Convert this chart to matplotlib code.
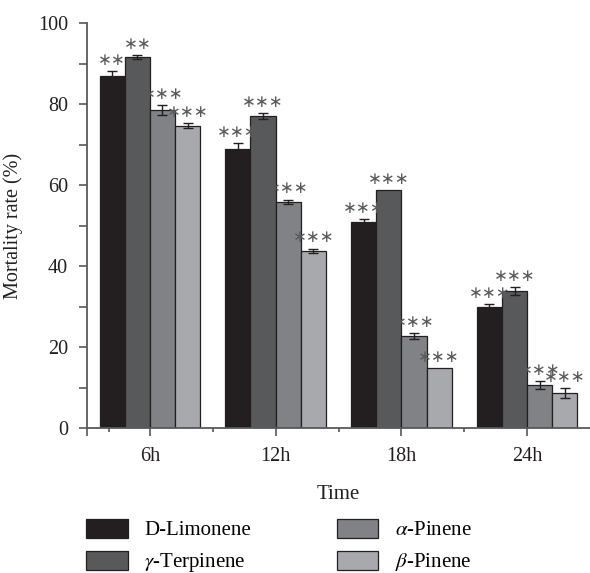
import matplotlib
matplotlib.use("Agg")
import matplotlib.pyplot as plt
import numpy as np

# data
times = ["6h", "12h", "18h", "24h"]
series = ["D-Limonene", r"$\gamma$-Terpinene", r"$\alpha$-Pinene", r"$\beta$-Pinene"]
colors = ["#231f20", "#58595b", "#808285", "#a7a9ac"]

limonene = [86.9, 68.9, 50.9, 30.0]
terpinene = [91.6, 77.0, 58.8, 33.8]
a_pinene = [78.5, 55.8, 22.7, 10.6]
b_pinene = [74.6, 43.8, 14.8, 8.7]

limonene_err = [1.2, 1.4, 0.8, 0.6]
terpinene_err = [0.5, 0.8, 0.0, 0.9]
a_pinene_err = [1.3, 0.6, 0.7, 1.0]
b_pinene_err = [0.6, 0.5, 0.0, 1.2]

limonene_sig = ["**", "***", "***", "***"]
terpinene_sig = ["**", "***", "***", "***"]
a_pinene_sig = ["***", "***", "***", "***"]
b_pinene_sig = ["***", "***", "***", "***"]

values = [limonene, terpinene, a_pinene, b_pinene]
errors = [limonene_err, terpinene_err, a_pinene_err, b_pinene_err]
sigs = [limonene_sig, terpinene_sig, a_pinene_sig, b_pinene_sig]

plt.rcParams["font.family"] = ["Liberation Serif", "DejaVu Serif"]
plt.rcParams["mathtext.fontset"] = "stix"
plt.rcParams["font.size"] = 14.5

AXCOL = "#58595b"

fig = plt.figure(figsize=(5.9, 5.73), dpi=100)
ax = fig.add_axes([87 / 590, 145 / 573, 503 / 590, 405 / 573])

x = np.arange(1, len(times) + 1)
width = 0.2
offsets = [-0.3, -0.1, 0.1, 0.3]

for i in range(len(series)):
    pos = x + offsets[i]
    ax.bar(pos, values[i], width, color=colors[i], edgecolor="#231f20",
           linewidth=0.9, label=series[i], zorder=2)
    err = np.array(errors[i])
    mask = err > 0
    ax.errorbar(pos[mask], np.array(values[i])[mask], yerr=err[mask], fmt="none",
                ecolor="#231f20", elinewidth=1.0, capsize=3.5, capthick=1.0, zorder=3)
    for j in range(len(times)):
        stars = "\u2217" * len(sigs[i][j])
        ax.annotate(stars, (pos[j], values[i][j] + errors[i][j]),
                    xytext=(0, 8), textcoords="offset points", ha="center", va="center",
                    fontsize=12, color=AXCOL, family=["DejaVu Sans"])

ax.set_xlim(0.5, 4.5)
ax.set_ylim(0, 100)
ax.set_xticks([0.5, 1, 2, 3, 4])
ax.set_xticklabels([""] + times)
ax.set_xticks([0.675, 1.5, 2.5, 3.5], minor=True)
ax.set_yticks(np.arange(0, 101, 20))
ax.set_yticks(np.arange(10, 100, 20), minor=True)

for s in ["top", "right"]:
    ax.spines[s].set_visible(False)
for s in ["left", "bottom"]:
    ax.spines[s].set_color(AXCOL)
    ax.spines[s].set_linewidth(1.3)

ax.tick_params(which="both", direction="out", color=AXCOL, width=1.2, labelcolor="#231f20")
ax.tick_params(axis="y", which="both", length=5.5, pad=8)
ax.tick_params(axis="x", which="major", length=5.5, pad=8)
ax.tick_params(axis="x", which="minor", length=3)

ax.set_xlabel("Time", labelpad=14, color="#231f20", fontsize=15)
ax.set_ylabel("Mortality rate (%)", color="#231f20")
ax.yaxis.set_label_coords(-0.127, 0.5)

handles, labels = ax.get_legend_handles_labels()
fig.legend(handles, labels, ncol=2, loc="upper left",
           bbox_to_anchor=(86 / 590, 1 - 519 / 573), frameon=False,
           borderpad=0, borderaxespad=0, handlelength=2.0, handleheight=1.0,
           handletextpad=0.8, columnspacing=4.1, labelspacing=0.5,
           prop={"size": 15})

fig.savefig("out.png", dpi=100)
